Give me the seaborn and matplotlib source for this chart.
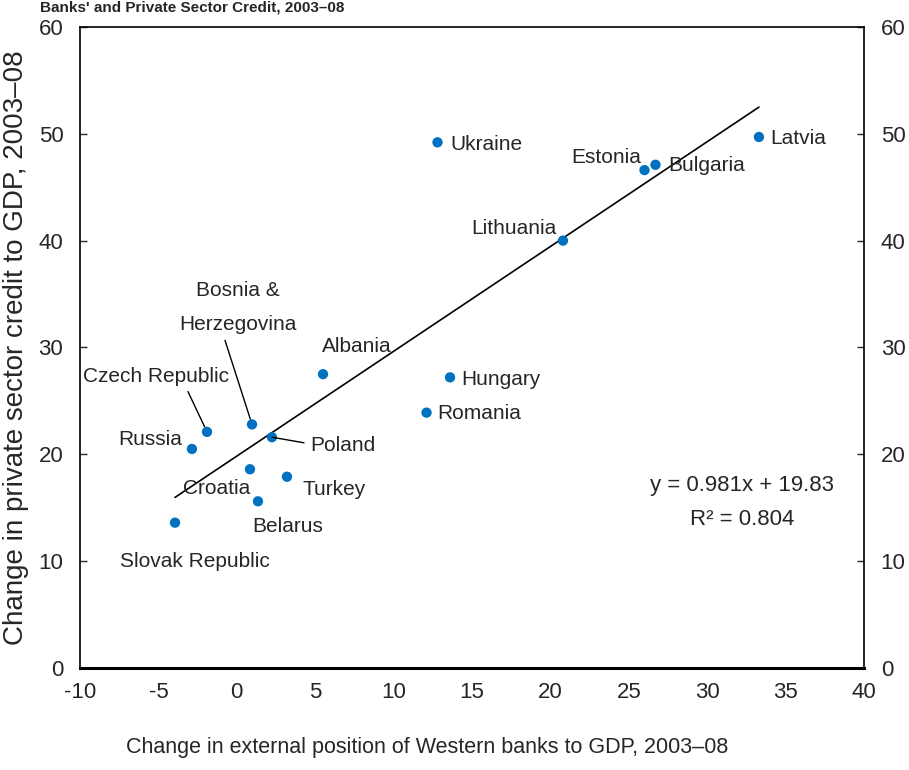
import numpy as np
import pandas as pd
import seaborn as sns
import matplotlib.pyplot as plt

sns.set_style("white")
plt.rcParams['font.family'] = ['Liberation Sans', 'DejaVu Sans']
plt.rcParams['axes.unicode_minus'] = False

countries = ["Latvia", "Ukraine", "Estonia", "Bulgaria", "Lithuania", "Albania",
             "Hungary", "Romania", "Bosnia &\nHerzegovina", "Czech Republic", "Poland",
             "Russia", "Croatia", "Turkey", "Belarus", "Slovak Republic"]
ext_position = [33.3, 12.8, 26.0, 26.7, 20.8, 5.5, 13.6, 12.1, 0.97, -1.9, 2.24,
                -2.86, 0.84, 3.2, 1.35, -3.94]
credit = [49.7, 49.2, 46.6, 47.1, 40.0, 27.5, 27.2, 23.9, 22.8, 22.1, 21.6,
          20.5, 18.6, 17.9, 15.6, 13.6]
slope, intercept, r2 = 0.981, 19.83, 0.804
x_ticks = list(range(-10, 45, 5))
y_ticks = list(range(0, 70, 10))

df = pd.DataFrame({"country": countries, "x": ext_position, "y": credit})

# label placement: (text x, text y, ha, leader relpos or None, shrinkB)
label_pos = {
    "Latvia": (34.0, 49.6, "left", None, 0),
    "Ukraine": (13.6, 49.0, "left", None, 0),
    "Estonia": (25.8, 47.8, "right", None, 0),
    "Bulgaria": (27.5, 47.0, "left", None, 0),
    "Lithuania": (20.4, 41.1, "right", None, 0),
    "Albania": (5.4, 30.1, "left", None, 0),
    "Hungary": (14.3, 27.0, "left", None, 0),
    "Romania": (12.8, 23.8, "left", None, 0),
    "Bosnia &\nHerzegovina": (0.1, 33.7, "center", (0.37, 0.0), 4),
    "Czech Republic": (-5.15, 27.3, "center", (0.7, 0.0), 4),
    "Poland": (4.67, 20.8, "left", (0.0, 0.6), 0),
    "Russia": (-3.5, 21.4, "right", None, 0),
    "Croatia": (0.84, 16.8, "right", None, 0),
    "Turkey": (4.16, 16.7, "left", None, 0),
    "Belarus": (0.97, 13.2, "left", None, 0),
    "Slovak Republic": (-2.67, 10.0, "center", None, 0),
}

fs = 15

fig = plt.figure(figsize=(9.09, 7.70), dpi=100)
ax = fig.add_axes([0.088, 0.1325, 0.8625, 0.8325])

sns.scatterplot(data=df, x="x", y="y", ax=ax, color="#0070C0", s=55,
                marker="o", edgecolor="none", zorder=3)

x_fit = np.array([min(ext_position), max(ext_position)])
sns.lineplot(x=x_fit, y=slope * x_fit + intercept, ax=ax, color="black",
             lw=1.2, zorder=2)

for name, px, py in zip(countries, ext_position, credit):
    tx, ty, ha, rel, shr = label_pos[name]
    if rel is None:
        ax.text(tx, ty, name, ha=ha, va="center", fontsize=fs)
    else:
        ax.annotate(name, xy=(px, py), xytext=(tx, ty), ha=ha, va="center",
                    fontsize=fs, linespacing=2.0,
                    arrowprops=dict(arrowstyle="-", color="black", lw=1.0,
                                    relpos=rel, shrinkA=2, shrinkB=shr))

ax.text(32.2, 17.1, f"y = {slope}x + {intercept}", ha="center", va="center",
        fontsize=fs + 1)
ax.text(32.2, 13.9, f"R² = {r2}", ha="center", va="center", fontsize=fs + 1)

ax.set_xlim(-10, 40)
ax.set_ylim(0, 60)
ax.set_xticks(x_ticks)
ax.set_yticks(y_ticks)
ax.tick_params(axis="x", direction="in", length=7, width=1.0, labelsize=fs + 1,
               pad=10, top=False)
ax.tick_params(axis="y", direction="in", length=5, width=1.0, labelsize=fs + 1,
               pad=12, left=True, right=True, labelright=True)
for side in ["left", "right", "top"]:
    ax.spines[side].set_linewidth(1.2)
    ax.spines[side].set_color("black")
ax.spines["bottom"].set_linewidth(2.2)
ax.spines["bottom"].set_color("black")

ax.set_xlabel("Change in external position of Western banks to GDP, 2003\u201308",
              fontsize=fs + 0.5)
ax.xaxis.set_label_coords(0.443, -0.108)
ax.set_ylabel("Change in private sector credit to GDP, 2003\u201308",
              fontsize=20, labelpad=7)

fig.text(0.044, 1 - 1 / 770, "Banks' and Private Sector Credit, 2003\u201308",
         fontsize=11, fontweight="bold", ha="left", va="top")

fig.savefig("out.png", dpi=100)
